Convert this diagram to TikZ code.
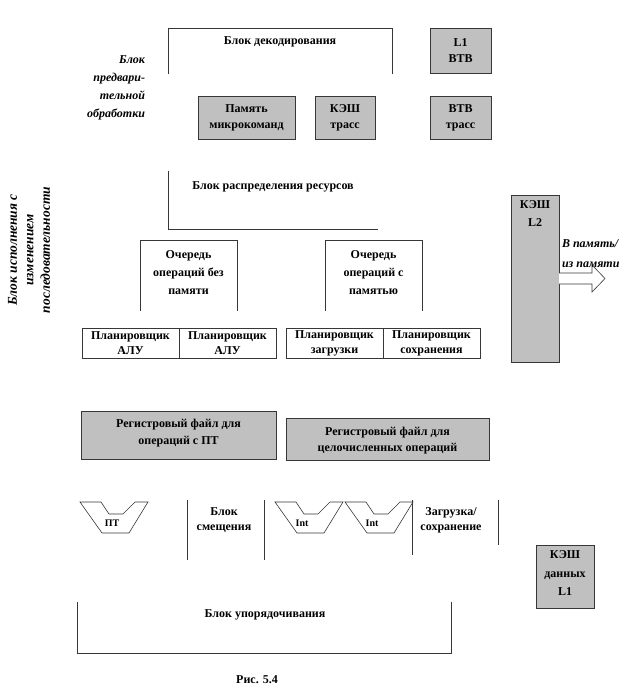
\documentclass[tikz,border=0pt]{standalone}
\usepackage{fontspec}
\setmainfont{Liberation Serif}
\definecolor{boxfill}{RGB}{192,192,192}
\definecolor{edge}{RGB}{55,55,55}
\begin{document}
\begin{tikzpicture}[x=1pt,y=-1pt,
  every node/.style={inner sep=0pt, outer sep=0pt},
  txt/.style={font=\bfseries\fontsize{12}{16}\selectfont, align=center},
  tight/.style={font=\bfseries\fontsize{12}{15}\selectfont, align=center},
  loose/.style={font=\bfseries\fontsize{12}{18}\selectfont, align=center},
  small/.style={font=\bfseries\fontsize{10}{12}\selectfont},
  itxt/.style={font=\bfseries\itshape\fontsize{12}{18}\selectfont},
  frame/.style={rectangle},
  side/.style={draw=edge, line width=0.6pt},
  greybox/.style={rectangle, fill=boxfill, draw=edge, line width=0.6pt},
  cell/.style={rectangle, draw=edge, line width=0.6pt, minimum width=97pt, minimum height=30pt},
  alushape/.pic={\draw[side] (0,0) -- (21,0) -- (29,12) -- (43,12) -- (55,0) -- (68,0) -- (49,31) -- (22,31) -- cycle;}
]
\useasboundingbox (0,0) rectangle (633,700);

% --- front end ---
\node[frame, minimum width=224pt, minimum height=46pt] (dec) at (280,51) {};
\draw[side] (dec.south west) -- (dec.north west) -- (dec.north east) -- (dec.south east);
\node[txt] (decT) at (280,42) {Блок декодирования};

\node[greybox, minimum width=61pt, minimum height=45pt, txt] (btb) at (460.5,50.5) {L1\\BTB};
\node[greybox, minimum width=97pt, minimum height=43pt, txt] (ucode) at (246.5,117.5) {Память\\микрокоманд};
\node[greybox, minimum width=60pt, minimum height=43pt, txt] (tc) at (345,117.5) {КЭШ\\трасс};
\node[greybox, minimum width=61pt, minimum height=43pt, txt] (tcbtb) at (460.5,117.5) {BTB\\трасс};

\node[itxt, align=right, anchor=east] (fe) at (145,88) {Блок\\предвари-\\тельной\\обработки};

% --- allocation and queues ---
\node[frame, minimum width=210pt, minimum height=58pt] (alloc) at (273,200) {};
\draw[side] (alloc.north west) -- (alloc.south west) -- (alloc.south east);
\node[txt] (allocT) at (273,187) {Блок распределения ресурсов};

\node[frame, minimum width=97pt, minimum height=71pt] (q1) at (188.5,275.5) {};
\draw[side] (q1.south west) -- (q1.north west) -- (q1.north east) -- (q1.south east);
\node[loose] (q1T) at (188.5,273) {Очередь\\операций без\\памяти};

\node[frame, minimum width=97pt, minimum height=71pt] (q2) at (373.5,275.5) {};
\draw[side] (q2.south west) -- (q2.north west) -- (q2.north east) -- (q2.south east);
\node[loose] (q2T) at (373.5,273) {Очередь\\операций с\\памятью};

% --- schedulers ---
\node[cell, tight] (s1) at (130.5,343) {Планировщик\\АЛУ};
\node[cell, tight] (s2) at (227.5,343) {Планировщик\\АЛУ};
\node[cell, tight] (s3) at (334.5,343) {Планировщик\\загрузки};
\node[cell, tight] (s4) at (431.5,343) {Планировщик\\сохранения};

% --- register files ---
\node[greybox, minimum width=195pt, minimum height=48pt] (rf1) at (178.5,435) {};
\node[txt, font=\bfseries\fontsize{12}{17}\selectfont] (rf1T) at (178.5,433.5) {Регистровый файл для\\операций с ПТ};
\node[greybox, minimum width=203pt, minimum height=42pt] (rf2) at (387.5,439) {};
\node[txt] (rf2T) at (387.5,441) {Регистровый файл для\\целочисленных операций};

% --- execution units ---
\pic at (80,502) {alushape};
\pic at (275,502) {alushape};
\pic at (345,502) {alushape};
\node[small] (fpu) at (112,523) {ПТ};
\node[small] (int1) at (302,523) {Int};
\node[small] (int2) at (372,523) {Int};

\draw[side] (187,500) -- (187,560);
\draw[side] (264,500) -- (264,560);
\draw[side] (412,500) -- (412,555);
\draw[side] (498,500) -- (498,545);
\node[tight] (shift) at (224,520.5) {Блок\\смещения};
\node[tight] (ldst) at (451,520.5) {Загрузка/\\сохранение};

% --- retirement ---
\node[frame, minimum width=374pt, minimum height=51pt] (ret) at (264,627.5) {};
\draw[side] (ret.north west) -- (ret.south west) -- (ret.south east) -- (ret.north east);
\node[txt] (retT) at (265,615) {Блок упорядочивания};

\node[txt] (cap) at (257,680) {Рис. 5.4};

% --- execution core label ---
\node[itxt, rotate=90, align=center, font=\bfseries\itshape\fontsize{13.5}{16.5}\selectfont] (ooo) at (29,250)
  {Блок исполнения с\\изменением\\последовательности};

% --- caches ---
\node[greybox, minimum width=48pt, minimum height=167pt] (l2) at (535,278.5) {};
\node[txt, font=\bfseries\fontsize{12}{18}\selectfont] (l2T) at (535,214) {КЭШ\\L2};
\draw[side, fill=white, shift={(l2.east)}]
  (0,-5.5) -- (33,-5.5) -- (33,-13.5) -- (46,0) -- (33,13.5) -- (33,5.5) -- (0,5.5);
\node[itxt, align=left, anchor=west, font=\bfseries\itshape\fontsize{12}{20}\selectfont] (mem) at (562,254) {В память/\\из памяти};

\node[greybox, minimum width=58pt, minimum height=63pt] (dl1) at (565,576.5) {};
\node[txt, font=\bfseries\fontsize{12}{18.5}\selectfont] (dl1T) at (565,573.5) {КЭШ\\данных\\L1};

\end{tikzpicture}
\end{document}
